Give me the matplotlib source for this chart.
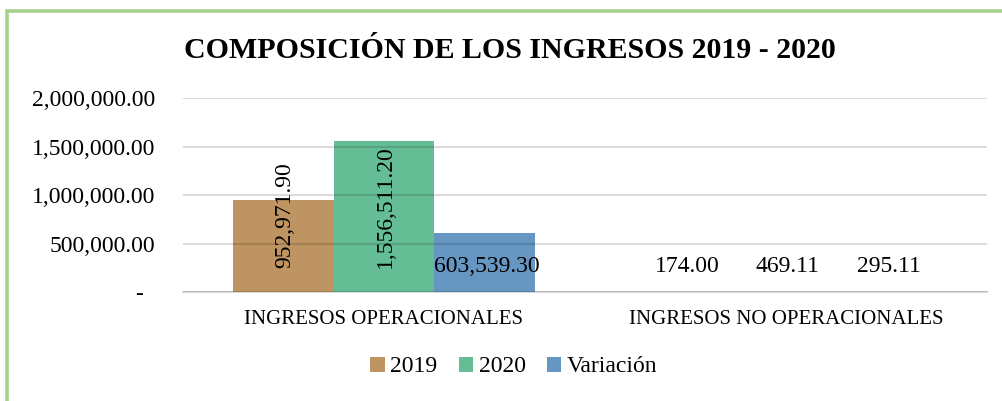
import matplotlib
matplotlib.use("Agg")
import matplotlib.pyplot as plt
from matplotlib.transforms import offset_copy, ScaledTranslation
from matplotlib.patches import Rectangle
import numpy as np

categories = ["INGRESOS OPERACIONALES", "INGRESOS NO OPERACIONALES"]
series_names = ["2019", "2020", "Variación"]
v2019 = [952971.90, 174.00]
v2020 = [1556511.20, 469.11]
variacion = [603539.30, 295.11]
series_values = [v2019, v2020, variacion]
colors = ["#BE9462", "#65BD95", "#6597C2"]
title = "COMPOSICIÓN DE LOS INGRESOS 2019 - 2020"
yticks = [0, 500000, 1000000, 1500000, 2000000]

plt.rcParams["font.family"] = ["Liberation Serif", "DejaVu Serif"]

W, H = 1003, 401
fig = plt.figure(figsize=(W / 100, H / 100), dpi=100)

# green frame
fig.patches.append(Rectangle((7.5 / W, -0.05), 1.2, 1 - 10.5 / H + 0.05,
                             transform=fig.transFigure, fill=False,
                             edgecolor="#A9D18E", linewidth=2.6))

ax = fig.add_axes([183 / W, 1 - 292 / H, (987 - 183) / W, (292 - 98) / H])
x = np.arange(len(categories))
bw = 0.25
for i, (name, vals, c) in enumerate(zip(series_names, series_values, colors)):
    pos = x + (i - 1) * bw
    ax.bar(pos, vals, width=bw, color=c, label=name, zorder=2)
    for xi, v in zip(pos, vals):
        txt = f"{v:,.2f}"
        vertical = (i < 2) and v > 100000
        if vertical:
            tr = offset_copy(ax.transData, fig=fig, x=1.5, y=24, units="dots")
            ax.text(xi, 0, txt, rotation=90, ha="center", va="bottom",
                    fontsize=17, transform=tr, zorder=4)
        else:
            tr = offset_copy(ax.transData, fig=fig, x=2, y=26, units="dots")
            ax.text(xi, 0, txt, ha="center", va="center",
                    fontsize=17, transform=tr, zorder=4)

ax.set_xlim(-0.5, 1.5)
ax.set_ylim(0, 2000000)
ax.set_yticks(yticks)
ax.set_yticklabels([("-" if t == 0 else f"{t:,.2f}") for t in yticks], fontsize=17)
ax.set_xticks(x)
ax.set_xticklabels(categories, fontsize=15)
ax.tick_params(axis="both", length=0)
ax.tick_params(axis="y", pad=20)
ax.tick_params(axis="x", pad=13)
lbl0 = ax.get_yticklabels()[0]
lbl0.set_transform(lbl0.get_transform() + ScaledTranslation(-12 / 100, 0, fig.dpi_scale_trans))

ax.set_axisbelow(False)
ax.yaxis.grid(True, color="black", alpha=0.14, linewidth=1.5, zorder=3)
for s in ["top", "right", "left"]:
    ax.spines[s].set_visible(False)
ax.spines["bottom"].set_color("#D9D9D9")
ax.spines["bottom"].set_linewidth(1.5)
ax.spines["bottom"].set_zorder(1)

fig.text(510 / W, 1 - 50 / H, title, ha="center", va="center",
         fontsize=21.5, fontweight="bold")

fig.legend(loc="center", bbox_to_anchor=(514 / W, 1 - 367 / H), ncol=3,
           frameon=False, fontsize=17, handlelength=0.6, handleheight=0.6,
           handletextpad=0.25, columnspacing=0.9, borderaxespad=0)

fig.savefig("out.png", dpi=100)
